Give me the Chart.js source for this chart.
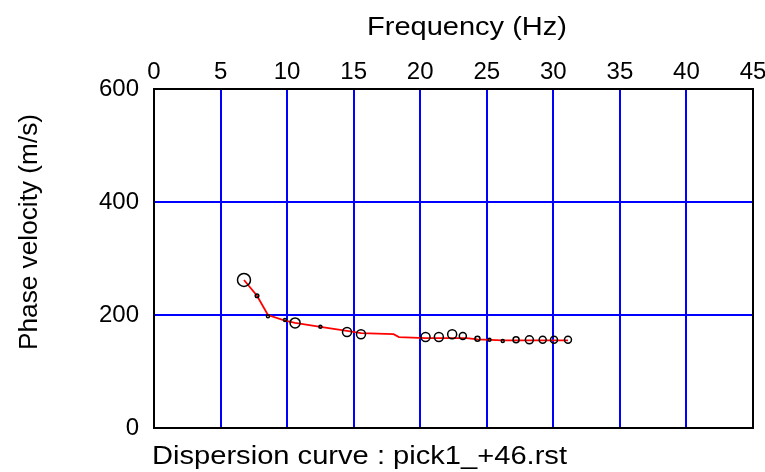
<!DOCTYPE html>
<html lang="en">
<head>
  <meta charset="UTF-8" />
  <title>Dispersion curve</title>
  <script src="https://cdn.jsdelivr.net/npm/chart.js"></script>
  <style>
    html, body {
      margin: 0;
      padding: 0;
      background: #ffffff;
    }
    #wrap {
      width: 765px;
      height: 472px;
    }
  </style>
</head>
<body>
  <div id="wrap"><canvas id="curve"></canvas></div>

  <script>
    // Picked dispersion points (frequency in Hz, phase velocity in m/s)
    const pickFreq = [6.76, 7.74, 8.56, 9.84, 10.6, 12.5, 14.5, 15.55, 20.4, 21.4, 22.4, 23.2, 24.3, 25.2, 26.2, 27.2, 28.2, 29.2, 30.05, 31.1];
    const pickVel  = [262, 234, 198, 191, 186, 179, 170, 166, 161, 161, 166, 163, 158, 156, 154, 156, 156, 156, 156, 156];

    // Fitted curve through the picks
    const fitFreq = [6.76, 7.74, 8.56, 9.84, 10.6, 12.5, 14.5, 15.55, 18.0, 18.4, 20.4, 23.5, 24.3, 26.2, 31.1];
    const fitVel  = [262, 234, 200, 190, 186, 179, 172, 168, 166, 161, 159, 159, 157, 155, 155];

    const xTicks = [0, 5, 10, 15, 20, 25, 30, 35, 40, 45];
    const yTicks = [0, 200, 400, 600];

    // marker radius for each pick (style only)
    const pickRadius = [6.5, 1.8, 1.5, 1.5, 5, 1.5, 4.5, 4.5, 4.5, 4.5, 4.5, 3.5, 2.5, 1.5, 1.5, 3, 4, 3.5, 3.5, 3.5];

    const fontFace = '"Liberation Sans", Arial, sans-serif';

    // draws a string squeezed/stretched to a given width
    function stretchText(ctx, text, x, y, size, width, rotate) {
      ctx.save();
      ctx.font = size + 'px ' + fontFace;
      ctx.fillStyle = '#000000';
      ctx.textBaseline = 'alphabetic';
      ctx.textAlign = 'left';
      ctx.translate(x, y);
      if (rotate) ctx.rotate(-Math.PI / 2);
      const w = ctx.measureText(text).width;
      ctx.scale(width / w, 1);
      ctx.fillText(text, 0, 0);
      ctx.restore();
    }

    const frame = {
      id: 'frame',
      afterDatasetsDraw(chart) {
        const { ctx, chartArea: a } = chart;
        ctx.save();
        ctx.strokeStyle = '#000000';
        ctx.lineWidth = 2;
        ctx.strokeRect(a.left, a.top, a.right - a.left, a.bottom - a.top);
        ctx.restore();
      },
      afterDraw(chart) {
        const ctx = chart.ctx;
        stretchText(ctx, 'Frequency (Hz)', 367, 35, 25, 200, false);
        stretchText(ctx, 'Dispersion curve : pick1_+46.rst', 152, 464, 26, 415, false);
        stretchText(ctx, 'Phase velocity (m/s)', 37, 350, 25, 236, true);
      }
    };

    const gridColor = (edgeValues) => (c) =>
      edgeValues.includes(c.tick && c.tick.value) ? 'rgba(0,0,0,0)' : '#0000ff';

    new Chart(document.getElementById('curve'), {
      type: 'scatter',
      data: {
        datasets: [
          {
            label: 'fit',
            type: 'line',
            data: fitFreq.map((f, i) => ({ x: f, y: fitVel[i] })),
            borderColor: '#ff0000',
            borderWidth: 1.8,
            pointRadius: 0,
            tension: 0,
            fill: false,
            order: 2
          },
          {
            label: 'picks',
            data: pickFreq.map((f, i) => ({ x: f, y: pickVel[i] })),
            pointStyle: 'circle',
            pointRadius: pickRadius,
            pointBorderColor: '#000000',
            pointBackgroundColor: 'rgba(0,0,0,0)',
            pointBorderWidth: 1.5,
            order: 1
          }
        ]
      },
      options: {
        responsive: true,
        maintainAspectRatio: false,
        animation: false,
        layout: { padding: { left: 0, right: 12, top: 0, bottom: 44 } },
        plugins: {
          legend: { display: false },
          tooltip: { enabled: false }
        },
        scales: {
          x: {
            type: 'linear',
            position: 'top',
            min: 0,
            max: 45,
            afterBuildTicks: (s) => { s.ticks = xTicks.map(v => ({ value: v })); },
            afterFit: (s) => { s.height = 89; s.paddingLeft = 0; s.paddingRight = 0; },
            border: { display: false },
            grid: { color: gridColor([0, 45]), lineWidth: 2, drawTicks: false },
            ticks: {
              color: '#000000',
              padding: 2,
              maxRotation: 0,
              font: { family: fontFace, size: 24 }
            }
          },
          y: {
            min: 0,
            max: 600,
            afterBuildTicks: (s) => { s.ticks = yTicks.map(v => ({ value: v })); },
            afterFit: (s) => { s.width = 154; s.paddingTop = 0; s.paddingBottom = 0; },
            border: { display: false },
            grid: { color: gridColor([0, 600]), lineWidth: 2, drawTicks: false },
            ticks: {
              color: '#000000',
              padding: 15,
              font: { family: fontFace, size: 24 }
            }
          }
        }
      },
      plugins: [frame]
    });
  </script>
</body>
</html>
